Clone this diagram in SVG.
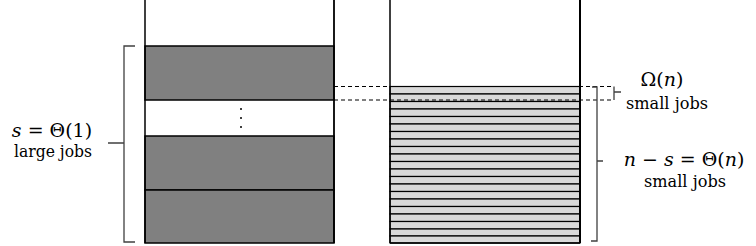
<svg xmlns="http://www.w3.org/2000/svg" width="756" height="246" viewBox="0 0 756 246">
<style>
.edge{stroke:#000;stroke-width:1.5;fill:none}
.big{fill:#808080;stroke:#000;stroke-width:1.5}
.stripe{fill:#d9d9d9;stroke:#000;stroke-width:1.2}
.dash{stroke:#000;stroke-width:1.1;stroke-dasharray:4 3;fill:none}
.brace{stroke:#404040;stroke-width:1.3;fill:none}
</style>
<rect width="756" height="246" fill="#fff"/>
<g id="left-bin">
<rect class="big" x="145" y="46" width="189" height="54"/>
<rect class="big" x="145" y="136" width="189" height="54"/>
<rect class="big" x="145" y="190" width="189" height="53"/>
<line class="edge" x1="145" y1="0" x2="145" y2="243"/>
<line class="edge" x1="334" y1="0" x2="334" y2="243" style="stroke-width:1.8"/>
<circle cx="241" cy="109" r="1" fill="#000"/>
<circle cx="241" cy="118" r="1" fill="#000"/>
<circle cx="241" cy="127" r="1" fill="#000"/>
</g>
<g id="right-bin">
<rect class="stripe" x="390" y="86.5" width="190" height="7.5"/>
<rect class="stripe" x="390" y="94" width="190" height="7.5"/>
<rect class="stripe" x="390" y="101.5" width="190" height="7.5"/>
<rect class="stripe" x="390" y="109" width="190" height="7.5"/>
<rect class="stripe" x="390" y="116.5" width="190" height="7.5"/>
<rect class="stripe" x="390" y="124" width="190" height="7.5"/>
<rect class="stripe" x="390" y="131.5" width="190" height="7.5"/>
<rect class="stripe" x="390" y="139" width="190" height="7.5"/>
<rect class="stripe" x="390" y="146.5" width="190" height="7.5"/>
<rect class="stripe" x="390" y="154" width="190" height="7.5"/>
<rect class="stripe" x="390" y="161.5" width="190" height="7.5"/>
<rect class="stripe" x="390" y="169" width="190" height="7.5"/>
<rect class="stripe" x="390" y="176.5" width="190" height="7.5"/>
<rect class="stripe" x="390" y="184" width="190" height="7.5"/>
<rect class="stripe" x="390" y="191.5" width="190" height="7.5"/>
<rect class="stripe" x="390" y="199" width="190" height="7.5"/>
<rect class="stripe" x="390" y="206.5" width="190" height="7.5"/>
<rect class="stripe" x="390" y="214" width="190" height="7.5"/>
<rect class="stripe" x="390" y="221.5" width="190" height="7.5"/>
<rect class="stripe" x="390" y="229" width="190" height="7"/>
<rect class="stripe" x="390" y="236" width="190" height="7"/>
<line class="edge" x1="390" y1="0" x2="390" y2="243"/>
<line class="edge" x1="580" y1="0" x2="580" y2="243" style="stroke-width:2"/>
<line class="edge" x1="390" y1="243" x2="580" y2="243"/>
</g>
<g id="connectors">
<line class="dash" x1="334" y1="86.5" x2="614" y2="86.5"/>
<line class="dash" x1="334" y1="100" x2="614" y2="100"/>
<path class="brace" d="M614,86.5 V100 M614,92 H621"/>
<path class="brace" d="M135,46 H124 V242 H135 M124,143 H108"/>
<path class="brace" d="M592,87 H597 V241 H591 M597,161 H603"/>
</g>
<g id="label-large" font-family="DejaVu Serif, serif" text-anchor="middle" fill="#000">
<text x="52" y="137" font-size="19"><tspan font-style="italic">s</tspan> = Θ(1)</text>
<text x="53" y="157" font-size="17" textLength="78" lengthAdjust="spacingAndGlyphs">large jobs</text>
</g>
<g id="label-omega" font-family="DejaVu Serif, serif" text-anchor="middle" fill="#000">
<text x="662" y="86" font-size="19">Ω(<tspan font-style="italic">n</tspan>)</text>
<text x="667" y="109" font-size="17" textLength="82" lengthAdjust="spacingAndGlyphs">small jobs</text>
</g>
<g id="label-theta" font-family="DejaVu Serif, serif" text-anchor="middle" fill="#000">
<text x="684" y="166" font-size="19"><tspan font-style="italic">n</tspan> − <tspan font-style="italic">s</tspan> = Θ(<tspan font-style="italic">n</tspan>)</text>
<text x="685" y="187" font-size="17" textLength="82" lengthAdjust="spacingAndGlyphs">small jobs</text>
</g>
</svg>
